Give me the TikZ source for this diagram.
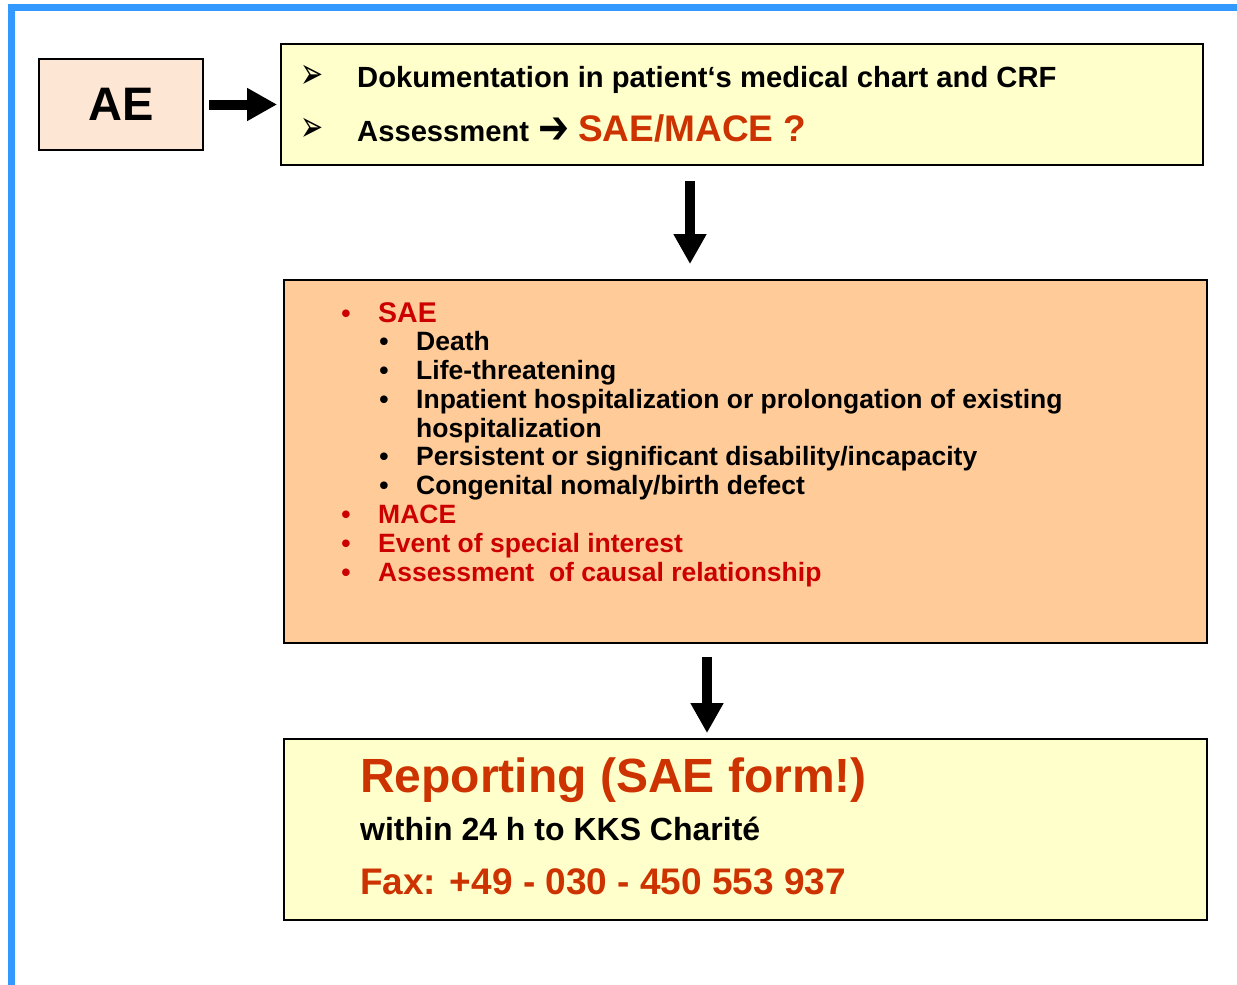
\documentclass[tikz,border=0pt]{standalone}
\usepackage{fontspec}
\setmainfont{Liberation Sans}
\newfontfamily\dejavu{DejaVu Sans}
\usetikzlibrary{arrows.meta}
\definecolor{frameblue}{HTML}{3399FF}
\definecolor{aefill}{HTML}{FEE6D4}
\definecolor{paleyellow}{HTML}{FFFFCC}
\definecolor{peach}{HTML}{FFCC99}
\definecolor{darkred}{HTML}{CC0000}
\definecolor{orangered}{HTML}{CC3300}
\begin{document}
\begin{tikzpicture}[x=1pt,y=-1pt,
  box/.style={draw=black,line width=1.8pt,inner sep=0pt},
  blockarrow/.style={line width=10pt,-{Triangle[length=30pt,width=31pt]}},
  txt/.style={anchor=base west,inner sep=0pt,font=\bfseries\fontsize{29.2}{34}\selectfont},
  midtxt/.style={anchor=base west,inner sep=0pt,font=\bfseries\fontsize{26.5}{30}\selectfont},
  bul/.style={anchor=base,inner sep=0pt,font=\bfseries\fontsize{26.5}{30}\selectfont},
  tipbul/.style={inner sep=0pt,font=\dejavu\fontsize{29}{34}\selectfont}]
\useasboundingbox (0,0) rectangle (1237,985);
% blue frame
\fill[frameblue] (8,4) rectangle (1237,11);
\fill[frameblue] (8,4) rectangle (15,985);
% boxes
\node[box,fill=aefill,minimum width=164pt,minimum height=91pt,font=\bfseries\fontsize{47}{52}\selectfont] (ae) at (121,104.5) {AE};
\node[box,fill=paleyellow,minimum width=922pt,minimum height=121pt] (top) at (742,104.5) {};
\node[box,fill=peach,minimum width=923pt,minimum height=363pt] (mid) at (745.5,461.5) {};
\node[box,fill=paleyellow,minimum width=923pt,minimum height=181pt] (bot) at (745.5,829.5) {};
% arrows
\coordinate (c1) at (690,0);
\coordinate (c2) at (707,0);
\draw[blockarrow,shorten <=5pt,shorten >=3pt] (ae.east) -- (top.west);
\draw[blockarrow,shorten <=15pt,shorten >=15pt] (top.south -| c1) -- (mid.north -| c1);
\draw[blockarrow,shorten <=13pt,shorten >=5pt] (mid.south -| c2) -- (bot.north -| c2);
% top box text
\node[tipbul] (b1) at (312.5,77) {\scalebox{0.95}[1.5]{➢}};
\node[tipbul] (b2) at (312.5,130) {\scalebox{0.95}[1.5]{➢}};
\node[txt] (t1) at (357,87.5) {Dokumentation in patient‘s medical chart and CRF};
\node[txt] (t2) at (357,141) {Assessment};
\node[inner sep=0pt,font=\dejavu\bfseries\fontsize{37}{42}\selectfont] (t3) at (553.5,131) {\scalebox{1}[1.25]{➔}};
\node[anchor=base west,inner sep=0pt,text=orangered,font=\bfseries\fontsize{37}{42}\selectfont] (t4) at (578,141) {SAE/MACE ?};
% middle box text
\node[bul,text=darkred] (m1b) at (346,322) {•};
\node[midtxt,text=darkred,font=\bfseries\fontsize{28.5}{32}\selectfont] (m1) at (378,322) {SAE};
\node[bul] (m2b) at (384,350.8) {•};
\node[midtxt] (m2) at (416,350.8) {Death};
\node[bul] (m3b) at (384,379.6) {•};
\node[midtxt] (m3) at (416,379.6) {Life-threatening};
\node[bul] (m4b) at (384,408.3) {•};
\node[midtxt] (m4) at (416,408.3) {Inpatient hospitalization or prolongation of existing};
\node[midtxt] (m5) at (416,437.1) {hospitalization};
\node[bul] (m6b) at (384,465.9) {•};
\node[midtxt] (m6) at (416,465.9) {Persistent or significant disability/incapacity};
\node[bul] (m7b) at (384,494.7) {•};
\node[midtxt] (m7) at (416,494.7) {Congenital nomaly/birth defect};
\node[bul,text=darkred] (m8b) at (346,523.5) {•};
\node[midtxt,text=darkred] (m8) at (378,523.5) {MACE};
\node[bul,text=darkred] (m9b) at (346,552.2) {•};
\node[midtxt,text=darkred] (m9) at (378,552.2) {Event of special interest};
\node[bul,text=darkred] (m10b) at (346,581) {•};
\node[midtxt,text=darkred] (m10) at (378,581) {Assessment\ \ of causal relationship};
% bottom box text
\node[anchor=base west,inner sep=0pt,text=orangered,font=\bfseries\fontsize{48}{52}\selectfont] (r1) at (360,792) {Reporting (SAE form!)};
\node[anchor=base west,inner sep=0pt,font=\bfseries\fontsize{32}{36}\selectfont] (r2) at (360,840) {within 24 h to KKS Charité};
\node[anchor=base west,inner sep=0pt,text=orangered,font=\bfseries\fontsize{37}{42}\selectfont] (r3) at (360,894) {Fax: +49 - 030 - 450 553 937};
\end{tikzpicture}
\end{document}
